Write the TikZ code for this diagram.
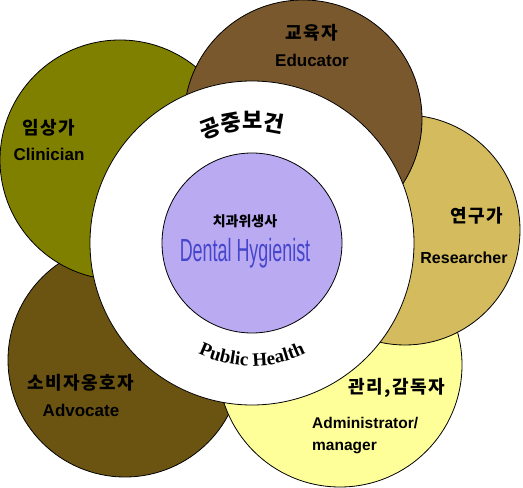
\documentclass[tikz,border=0pt]{standalone}
\usepackage{fontspec}
\usepackage{graphicx}
\setmainfont{Liberation Sans}
\newfontfamily\kr{Noto Sans CJK KR}[LetterSpace=8]
\newfontfamily\krplain{Noto Sans CJK KR}
\newfontfamily\oldserif{Liberation Serif}
\usetikzlibrary{positioning,decorations.text}
\definecolor{clinicianolive}{RGB}{128,128,0}
\definecolor{educatorbrown}{RGB}{122,88,45}
\definecolor{researchertan}{RGB}{212,187,94}
\definecolor{advocatebrown}{RGB}{107,84,18}
\definecolor{adminyellow}{RGB}{255,255,153}
\definecolor{hygienistlilac}{RGB}{186,170,242}
\definecolor{hygienistblue}{RGB}{70,70,205}
\tikzset{
  role/.style={circle, draw=black, line width=0.8pt, inner sep=0pt, outer sep=0pt},
  krlabel/.style={font=\kr\bfseries\fontsize{18}{18}\selectfont, inner sep=0pt},
  enlabel/.style={font=\bfseries\fontsize{17}{17}\selectfont, inner sep=0pt},
  arctext/.style={decorate, decoration={text along path, text align=center}}
}

\begin{document}
\begin{tikzpicture}[x=1pt, y=1pt]
  \useasboundingbox (0,0) rectangle (523,488);
  \node[role, fill=advocatebrown, minimum size=234] (adv) at (125,128) {};
  \node[role, fill=adminyellow, minimum size=244] (adm) at (340,123) {};
  \node[role, fill=researchertan, minimum size=230] (res) at (405,258) {};
  \node[role, fill=clinicianolive, minimum size=240] (cli) at (120,328) {};
  \node[role, fill=educatorbrown, minimum size=238] (edu) at (303,369) {};
  \node[role, fill=white, minimum size=324] (ph) at (252,245) {};
  \node[role, fill=hygienistlilac, minimum size=180] (dh) at (252,245) {};
  % role labels
  \node[krlabel] (edukr) at (312,455) {교육자};
  \node[enlabel, below=12pt of edukr] (eduen) {Educator};
  \node[krlabel] (clikr) at (49,360) {임상가};
  \node[enlabel, below=11pt of clikr] (clien) {Clinician};
  \node[krlabel] (reskr) at (477,272) {연구가};
  \node[enlabel, font=\bfseries\fontsize{16}{16}\selectfont] (resen) at (464,230) {Researcher};
  \node[krlabel] (advkr) at (81,105) {소비자옹호자};
  \node[enlabel, below=12pt of advkr] (adven) {Advocate};
  \node[krlabel] (admkr) at (397,100) {관리,감독자};
  \node[enlabel, anchor=west, align=left, font=\bfseries\fontsize{15.5}{22}\selectfont] (admen) at (312,52) {Administrator/\\manager};
  % centre
  \node[font=\krplain\bfseries\fontsize{14}{14}\selectfont, inner sep=0pt] (dhkr) at (245,267) {치과위생사};
  \node[text=hygienistblue, inner sep=0pt, below=10pt of dhkr] (dhen) {\scalebox{0.56}[1]{\fontsize{32}{32}\selectfont Dental Hygienist}};
  \path[arctext, decoration={text={|\krplain\bfseries\fontsize{22}{22}\selectfont|공중보건}}]
    ([shift={(130:114)}]ph.center) arc[start angle=130, end angle=60, radius=114];
  \path[arctext, decoration={text={|\oldserif\bfseries\fontsize{19}{19}\selectfont|Public Health}}]
    ([shift={(225:123)}]ph.center) arc[start angle=225, end angle=315, radius=123];
\end{tikzpicture}
\end{document}
